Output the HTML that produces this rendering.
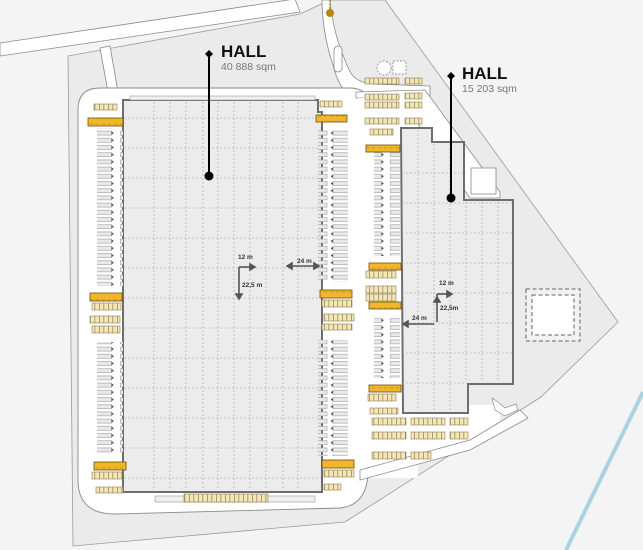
<!DOCTYPE html>
<html><head><meta charset="utf-8"><style>
html,body{margin:0;padding:0;background:#f4f4f4;}
svg{display:block;font-family:"Liberation Sans",sans-serif;}
</style></head><body>
<svg width="643" height="550" viewBox="0 0 643 550" xmlns="http://www.w3.org/2000/svg">
<defs>
<pattern id="stall" width="4.5" height="20" patternUnits="userSpaceOnUse">
<rect width="4.5" height="20" fill="#f5e6b6"/><line x1="0.3" y1="0" x2="0.3" y2="20" stroke="#8b7d55" stroke-width="0.8"/>
</pattern>
<pattern id="dock" width="6" height="8" patternUnits="userSpaceOnUse">
<rect width="6" height="8" fill="#f2b62a"/><line x1="0" y1="4" x2="3" y2="4" stroke="#b08320" stroke-width="0.6"/>
</pattern>
<pattern id="barL" width="30" height="7.2" patternUnits="userSpaceOnUse">
<rect x="0.5" y="1.5" width="21" height="4" fill="#e9e9e9" stroke="#9a9a9a" stroke-width="0.6"/>
<path d="M21.5 1.8 L24 3.5 L21.5 5.2Z" fill="#555"/>
</pattern>
<pattern id="barR" width="30" height="7.2" patternUnits="userSpaceOnUse">
<rect x="3" y="1.5" width="24" height="4" fill="#e9e9e9" stroke="#9a9a9a" stroke-width="0.6"/>
<path d="M3 1.8 L0.5 3.5 L3 5.2Z" fill="#555"/>
</pattern>
</defs>
<rect width="643" height="550" fill="#f4f4f4"/>
<!-- plot -->
<polygon points="68,56 300,14 330,0 385,0 618,322 541,397 345,522 73,546" fill="#ebebeb" stroke="#9a9a9a" stroke-width="0.8"/>
<!-- top road -->
<polygon points="0,43 295,-1 300,12 0,56" fill="#fff" stroke="#8a8a8a" stroke-width="0.8"/>
<polygon points="100,48 110,46 118,92 108,92" fill="#fff" stroke="#8a8a8a" stroke-width="0.8"/>
<path d="M322,0 L330,0 C332,20 336,40 345,60 C350,75 355,82 372,84 L430,86 L430,98 L360,98 C345,96 338,85 333,65 C326,45 322,20 322,0Z" fill="#fff" stroke="#8a8a8a" stroke-width="0.8"/>
<rect x="334" y="46" width="8" height="26" rx="4" fill="#fff" stroke="#8a8a8a" stroke-width="0.8"/>
<!-- white around hall1 -->
<path d="M100,88 L350,88 Q368,88 368,105 L368,470 Q368,505 340,508 L115,514 Q78,514 78,480 L78,110 Q78,88 100,88Z" fill="#fff" stroke="#8a8a8a" stroke-width="0.9"/>
<!-- white around hall2 -->
<path d="M356,92 L425,90 L500,192 L500,198 L470,198 L400,98 L356,98Z" fill="#fff" stroke="#8a8a8a" stroke-width="0.8"/>
<rect x="358" y="98" width="60" height="380" fill="#fff"/>
<polygon points="360,405 500,405 500,425 470,445 360,470" fill="#fff"/>
<path d="M360,470 L470,440 L520,410 L528,418 L470,450 L360,480Z" fill="#fff" stroke="#8a8a8a" stroke-width="0.8"/>
<path d="M492,398 L498,402 L505,408 L516,404 L518,410 L505,416 L495,410 Z" fill="#fff" stroke="#8a8a8a" stroke-width="0.7"/>
<rect x="471" y="168" width="25" height="26" fill="#fff" stroke="#8a8a8a" stroke-width="0.8"/>
<circle cx="384" cy="68" r="7" fill="#fff" stroke="#999" stroke-dasharray="2,1.5"/>
<rect x="393" y="61" width="13" height="13" fill="#fff" stroke="#999" stroke-dasharray="2,1.5"/>
<line x1="330" y1="0" x2="330" y2="12" stroke="#b8860b" stroke-dasharray="2,1.5" stroke-width="1.5"/>
<circle cx="330" cy="13" r="4" fill="#b8860b"/>
<!-- hall 1 -->
<polygon points="123,100 318,100 318,112 322,112 322,492 123,492" fill="#ececec" stroke="#6e6e6e" stroke-width="2"/>
<rect x="130" y="96" width="185" height="4" fill="#f0f0f0" stroke="#999" stroke-width="0.6"/>
<g stroke="#a0a0a0" stroke-width="0.6" stroke-dasharray="2,2">
<line x1="154" y1="102" x2="154" y2="490"/><line x1="170" y1="102" x2="170" y2="490"/><line x1="186" y1="102" x2="186" y2="490"/><line x1="203" y1="102" x2="203" y2="490"/><line x1="218" y1="102" x2="218" y2="490"/><line x1="234" y1="102" x2="234" y2="490"/><line x1="250" y1="102" x2="250" y2="490"/><line x1="266" y1="102" x2="266" y2="490"/><line x1="283" y1="102" x2="283" y2="490"/><line x1="298" y1="102" x2="298" y2="490"/>
<line x1="124" y1="118" x2="321" y2="118"/><line x1="124" y1="148" x2="321" y2="148"/><line x1="124" y1="178" x2="321" y2="178"/><line x1="124" y1="208" x2="321" y2="208"/><line x1="124" y1="238" x2="321" y2="238"/><line x1="124" y1="268" x2="321" y2="268"/><line x1="124" y1="298" x2="321" y2="298"/><line x1="124" y1="328" x2="321" y2="328"/><line x1="124" y1="358" x2="321" y2="358"/><line x1="124" y1="388" x2="321" y2="388"/><line x1="124" y1="418" x2="321" y2="418"/><line x1="124" y1="448" x2="321" y2="448"/><line x1="124" y1="478" x2="321" y2="478"/>
</g>
<rect x="155" y="496" width="160" height="6" fill="#f0f0f0" stroke="#999" stroke-width="0.6"/>
<rect x="184" y="494" width="84" height="8" fill="url(#stall)" stroke="#8b7d55" stroke-width="0.6"/>
<!-- hall 2 -->
<polygon points="401,128 432,128 432,142 464,142 464,200 513,200 513,384 468,384 468,413 403,413" fill="#ececec" stroke="#6e6e6e" stroke-width="2"/>
<g stroke="#a0a0a0" stroke-width="0.6" stroke-dasharray="2,2">
<line x1="418" y1="130" x2="418" y2="411"/><line x1="434" y1="144" x2="434" y2="411"/><line x1="450" y1="144" x2="450" y2="411"/><line x1="466" y1="202" x2="466" y2="382"/><line x1="482" y1="202" x2="482" y2="382"/><line x1="498" y1="202" x2="498" y2="382"/>
<line x1="402" y1="173" x2="463" y2="173"/><line x1="402" y1="203" x2="512" y2="203"/><line x1="402" y1="233" x2="512" y2="233"/><line x1="402" y1="263" x2="512" y2="263"/><line x1="402" y1="293" x2="512" y2="293"/><line x1="402" y1="323" x2="512" y2="323"/><line x1="402" y1="353" x2="512" y2="353"/><line x1="402" y1="383" x2="467" y2="383"/>
</g>
<!-- parking bars -->
<rect x="97" y="128" width="26" height="158" fill="url(#barL)"/>
<rect x="97" y="342" width="26" height="112" fill="url(#barL)"/>
<rect x="318" y="130" width="30" height="152" fill="url(#barR)"/>
<rect x="318" y="340" width="30" height="116" fill="url(#barR)"/>
<rect x="374" y="150" width="26" height="106" fill="url(#barL)"/>
<rect x="374" y="318" width="26" height="60" fill="url(#barL)"/>
<!-- docks -->
<g stroke="#6a5010" stroke-width="0.8">
<rect x="88" y="118" width="35" height="8" fill="url(#dock)"/>
<rect x="90" y="293" width="32" height="8" fill="url(#dock)"/>
<rect x="94" y="462" width="32" height="8" fill="url(#dock)"/>
<rect x="316" y="115" width="31" height="7" fill="url(#dock)"/>
<rect x="320" y="290" width="32" height="8" fill="url(#dock)"/>
<rect x="322" y="460" width="32" height="8" fill="url(#dock)"/>
<rect x="366" y="145" width="34" height="7" fill="url(#dock)"/>
<rect x="369" y="263" width="32" height="7" fill="url(#dock)"/>
<rect x="369" y="302" width="32" height="7" fill="url(#dock)"/>
<rect x="369" y="385" width="32" height="7" fill="url(#dock)"/>
</g>
<!-- stalls -->
<g stroke="#8b7d55" stroke-width="0.6" fill="url(#stall)">
<rect x="94" y="104" width="23" height="6"/>
<rect x="320" y="101" width="22" height="6"/>
<rect x="92" y="303" width="29" height="7"/><rect x="90" y="316" width="30" height="7"/><rect x="92" y="326" width="28" height="7"/>
<rect x="92" y="472" width="30" height="7"/><rect x="96" y="487" width="27" height="6"/>
<rect x="322" y="300" width="30" height="7"/><rect x="324" y="314" width="30" height="7"/><rect x="322" y="324" width="30" height="6"/>
<rect x="324" y="470" width="30" height="7"/><rect x="324" y="484" width="17" height="6"/>
<rect x="365" y="78" width="34" height="6"/><rect x="405" y="78" width="17" height="6"/>
<rect x="365" y="94" width="34" height="6"/><rect x="405" y="93" width="17" height="6"/>
<rect x="365" y="102" width="34" height="6"/><rect x="405" y="102" width="17" height="6"/>
<rect x="365" y="118" width="34" height="6"/><rect x="405" y="118" width="17" height="6"/>
<rect x="370" y="129" width="23" height="6"/>
<rect x="366" y="271" width="30" height="7"/>
<rect x="366" y="286" width="30" height="7"/><rect x="366" y="294" width="30" height="7"/>
<rect x="368" y="394" width="28" height="7"/>
<rect x="370" y="408" width="28" height="6"/><rect x="372" y="418" width="34" height="7"/><rect x="411" y="418" width="34" height="7"/><rect x="450" y="418" width="18" height="7"/>
<rect x="372" y="432" width="34" height="7"/><rect x="411" y="432" width="34" height="7"/><rect x="450" y="432" width="18" height="7"/>
<rect x="372" y="452" width="34" height="7"/><rect x="411" y="452" width="20" height="7"/>
</g>
<!-- dashed square -->
<rect x="526" y="289" width="54" height="52" fill="#f2f2f2" stroke="#666" stroke-dasharray="4,2.5" stroke-width="1"/>
<rect x="532" y="295" width="42" height="40" fill="#fff" stroke="#666" stroke-dasharray="4,2.5" stroke-width="1"/>
<!-- river -->
<path d="M643,392 L566,550" stroke="#a9d3e0" stroke-width="4" fill="none"/>
<!-- dimensions -->
<g stroke="#555" stroke-width="1.6" fill="#555">
<line x1="239" y1="267" x2="252" y2="267"/><path d="M255,267 L250,264 L250,270Z"/>
<line x1="239" y1="267" x2="239" y2="296"/><path d="M239,299 L236,294 L242,294Z"/>
<line x1="290" y1="266" x2="316" y2="266"/><path d="M287,266 L292,263 L292,269Z"/><path d="M319,266 L314,263 L314,269Z"/>
<line x1="437" y1="294" x2="449" y2="294"/><path d="M452,294 L447,291 L447,297Z"/>
<line x1="437" y1="294" x2="437" y2="322"/><path d="M437,297 L434,302 L440,302Z"/>
<line x1="406" y1="324" x2="434" y2="324"/><path d="M403,324 L408,321 L408,327Z"/>
</g>
<g font-size="6.5" font-weight="bold" fill="#333">
<text x="238" y="259">12 m</text><text x="242" y="287">22,5 m</text><text x="297" y="263">24 m</text>
<text x="439" y="285">12 m</text><text x="440" y="310">22,5m</text><text x="412" y="320">24 m</text>
</g>
<!-- labels -->
<line x1="209" y1="54" x2="209" y2="176" stroke="#000" stroke-width="2"/>
<path d="M209,50 L213,54 L209,58 L205,54Z" fill="#000"/><circle cx="209" cy="176" r="4.5" fill="#000"/>
<text x="221" y="57" font-size="17" font-weight="bold" fill="#111">HALL</text>
<text x="221" y="70" font-size="10.5" fill="#777">40 888 sqm</text>
<line x1="451" y1="76" x2="451" y2="198" stroke="#000" stroke-width="2"/>
<path d="M451,72 L455,76 L451,80 L447,76Z" fill="#000"/><circle cx="451" cy="198" r="4.5" fill="#000"/>
<text x="462" y="79" font-size="17" font-weight="bold" fill="#111">HALL</text>
<text x="462" y="92" font-size="10.5" fill="#777">15 203 sqm</text>
</svg>
</body></html>
